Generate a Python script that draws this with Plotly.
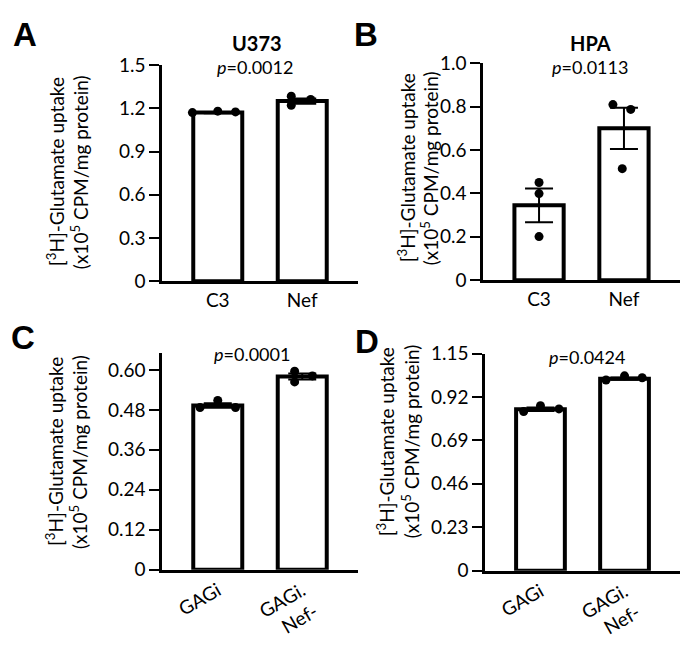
import plotly.graph_objects as go

# ---------------- data ----------------
# Panel A (U373)
a_cats = ["C3", "Nef"]
a_means = [1.17, 1.25]
a_sem = [0.005, 0.018]
a_pts = [[1.170, 1.180, 1.175], [1.284, 1.221, 1.261]]
a_ticks = [0, 0.3, 0.6, 0.9, 1.2, 1.5]
a_ticklabels = ["0", "0.3", "0.6", "0.9", "1.2", "1.5"]

# Panel B (HPA)
b_cats = ["C3", "Nef"]
b_means = [0.345, 0.700]
b_sem = [0.078, 0.095]
b_pts = [[0.450, 0.399, 0.201], [0.809, 0.787, 0.514]]
b_ticks = [0, 0.2, 0.4, 0.6, 0.8, 1.0]
b_ticklabels = ["0", "0.2", "0.4", "0.6", "0.8", "1.0"]

# Panel C
c_cats = ["GAGi", "GAGi.<br>Nef-"]
c_means = [0.493, 0.580]
c_sem = [0.007, 0.009]
c_pts = [[0.487, 0.508, 0.487], [0.596, 0.564, 0.582]]
c_ticks = [0, 0.12, 0.24, 0.36, 0.48, 0.60]
c_ticklabels = ["0", "0.12", "0.24", "0.36", "0.48", "0.60"]

# Panel D
d_cats = ["GAGi", "GAGi.<br>Nef-"]
d_means = [0.855, 1.017]
d_sem = [0.009, 0.006]
d_pts = [[0.843, 0.874, 0.857], [1.010, 1.032, 1.022]]
d_ticks = [0, 0.23, 0.46, 0.69, 0.92, 1.15]
d_ticklabels = ["0", "0.23", "0.46", "0.69", "0.92", "1.15"]

p_texts = ["<i>p</i>=0.0012", "<i>p</i>=0.0113", "<i>p</i>=0.0001", "<i>p</i>=0.0424"]
titles = ["U373", "HPA"]
letters = ["A", "B", "C", "D"]

# ---------------- style ----------------
FONT = "Lato"
TICKSIZE = 19
jitter = {
    "A": [[-0.30, 0.0, 0.21], [-0.13, -0.13, 0.10]],
    "B": [[0.0, 0.0, 0.0], [-0.13, 0.08, -0.02]],
    "C": [[-0.21, 0.0, 0.21], [-0.09, -0.09, 0.12]],
    "D": [[-0.20, 0.0, 0.22], [-0.22, 0.0, 0.21]],
}

W, H = 699, 655
def px(x): return x / W
def py(y): return 1 - y / H

panels = [
    dict(key="A", cats=a_cats, means=a_means, sem=a_sem, pts=a_pts, ticks=a_ticks, tl=a_ticklabels,
         yr=[0, 1.5], dx=[162, 358], dy=[55, 279], ax="", angle=0),
    dict(key="B", cats=b_cats, means=b_means, sem=b_sem, pts=b_pts, ticks=b_ticks, tl=b_ticklabels,
         yr=[0, 1.0], dx=[483, 680], dy=[53, 278], ax="2", angle=0),
    dict(key="C", cats=c_cats, means=c_means, sem=c_sem, pts=c_pts, ticks=c_ticks, tl=c_ticklabels,
         yr=[0, 0.652], dx=[162, 358], dy=[353, 578], ax="3", angle=-30),
    dict(key="D", cats=d_cats, means=d_means, sem=d_sem, pts=d_pts, ticks=d_ticks, tl=d_ticklabels,
         yr=[0, 1.15], dx=[485, 680], dy=[354, 579], ax="4", angle=-30),
]

fig = go.Figure()
layout = {}
for p in panels:
    xa = "x" + p["ax"]
    ya = "y" + p["ax"]
    pos = list(range(len(p["cats"])))
    fig.add_trace(go.Bar(
        x=pos, y=p["means"], width=0.58, xaxis=xa, yaxis=ya,
        marker=dict(color="white", line=dict(color="black", width=4)),
        error_y=dict(type="data", array=p["sem"], visible=True, color="black", thickness=2, width=14),
        showlegend=False,
    ))
    for i, vals in enumerate(p["pts"]):
        fig.add_trace(go.Scatter(
            x=[pos[i] + o for o in jitter[p["key"]][i]], y=vals, mode="markers",
            xaxis=xa, yaxis=ya, marker=dict(color="black", size=9), showlegend=False,
            cliponaxis=False,
        ))
    layout["xaxis" + p["ax"]] = dict(
        domain=[px(p["dx"][0]), px(p["dx"][1])], range=[-0.66, 1.66], anchor=ya,
        tickvals=pos, ticktext=p["cats"], ticks="", showline=True, linecolor="black", linewidth=2.5,
        showgrid=False, zeroline=False, tickangle=p["angle"],
        tickfont=dict(family=FONT, size=TICKSIZE, color="black"), fixedrange=True,
    )
    layout["yaxis" + p["ax"]] = dict(
        domain=[py(p["dy"][1]), py(p["dy"][0])], range=p["yr"], anchor=xa,
        tickvals=p["ticks"], ticktext=p["tl"], ticks="outside", ticklen=10, tickwidth=2,
        tickcolor="black", showline=True, linecolor="black", linewidth=2.5,
        showgrid=False, zeroline=False,
        tickfont=dict(family=FONT, size=TICKSIZE, color="black"), fixedrange=True,
    )

ann = []
# panel letters
for t, (x, y) in zip(letters, [(25, 23), (366, 23), (23, 337), (367, 341)]):
    ann.append(dict(text="<b>%s</b>" % t, x=px(x), y=py(y), xref="paper", yref="paper",
                    showarrow=False, xanchor="center", yanchor="middle",
                    font=dict(family="Liberation Sans", size=33, color="black")))
# titles
for t, (x, y) in zip(titles, [(257, 32), (590, 32)]):
    ann.append(dict(text="<b>%s</b>" % t, x=px(x), y=py(y), xref="paper", yref="paper",
                    showarrow=False, xanchor="center", yanchor="middle",
                    font=dict(family=FONT, size=20, color="black")))
# p values
for t, (x, y) in zip(p_texts, [(255, 57), (590, 57), (252, 354), (587, 358)]):
    ann.append(dict(text=t, x=px(x), y=py(y), xref="paper", yref="paper",
                    showarrow=False, xanchor="center", yanchor="middle",
                    font=dict(family=FONT, size=18, color="black")))
# axis titles (two lines each)
line1 = "[<sup>3</sup>H]-Glutamate uptake"
line2 = "(x10<sup>5</sup> CPM/mg protein)"
for (x1, x2, yc) in [(55, 79, 166), (406, 429, 162), (55, 79, 456), (385, 410, 445)]:
    for txt, xx in [(line1, x1), (line2, x2)]:
        ann.append(dict(text=txt, x=px(xx), y=py(yc), xref="paper", yref="paper",
                        showarrow=False, xanchor="center", yanchor="middle", textangle=-90,
                        font=dict(family=FONT, size=19, color="black")))

fig.update_layout(
    width=W, height=H, margin=dict(l=0, r=0, t=0, b=0),
    paper_bgcolor="white", plot_bgcolor="white", showlegend=False,
    annotations=ann, **layout,
)
fig.write_html("out.html", config={"displayModeBar": False},
               post_script="document.body.style.margin='0px';")
